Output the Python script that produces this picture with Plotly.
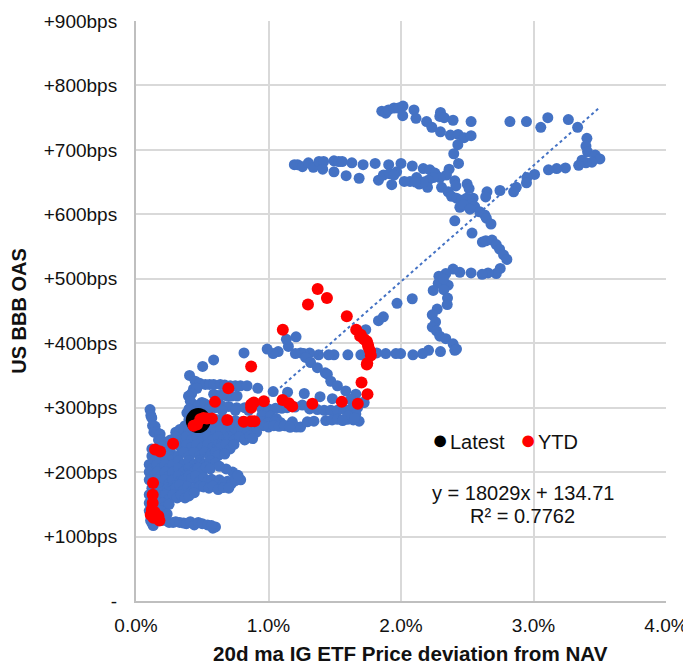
import plotly.graph_objects as go

# x = 20d ma ETF price deviation from NAV (%), y = US BBB OAS (bps)
blue_upper = [
 (1.855,760),(1.885,757),(1.905,762),(1.947,765),(1.98,765),(2.015,768),(2.098,762),(2.013,753),(2.113,749),
 (2.193,744),(2.233,735),(2.298,728),(2.298,758),(2.293,752),(2.326,750),(2.393,746),(2.529,744),(2.373,723),
 (2.431,724),(2.476,719),(2.529,722),(2.429,708),(2.398,694),(2.434,679),
 (2.822,744),(2.947,744),(3.055,735),(3.108,750),(3.263,747),(3.333,735),(3.403,718),(3.396,706),(3.408,697),
 (3.466,692),(3.501,686),(3.441,681),(3.396,680),(3.366,684),(3.341,676),(3.241,672),(3.175,671),(3.113,669),
 (3.008,662),(2.95,657),(2.947,649),(2.87,642),(2.85,635),(2.747,637),(2.649,635),(2.639,627),
 (1.195,677),(1.22,677),(1.256,674),(1.301,680),(1.338,673),(1.381,682),(1.416,682),(1.409,670),(1.494,683),
 (1.494,666),(1.53,682),(1.556,682),(1.629,680),(1.586,660),(1.684,656),(1.714,677),(1.805,679),(1.907,677),
 (2.0,679),(2.085,675),(2.168,671),(2.218,669),(2.256,664),(2.363,670),(2.343,661),(2.293,657),(2.243,657),
 (2.206,653),(2.118,657),(2.068,651),(2.025,651),(1.83,653),(1.867,661),(1.912,663),(1.967,666),(1.947,661),
 (1.93,646),(2.138,647),(2.2,642),(2.17,650),(2.11,650),(2.306,642),(2.406,652),(2.414,644),(2.499,647),(2.514,640),
 (2.356,635),(2.381,628),(2.419,625),(2.456,622),(2.494,625),(2.544,625),(2.444,611),(2.494,614),(2.531,617),
 (2.556,612),(2.47,615),(2.52,608),(2.594,604),(2.632,599),(2.644,594),(2.679,585),(2.406,590),(2.536,571),
 (2.614,557),(2.64,559),(2.687,560),(2.719,553),(2.744,546),(2.774,537),(2.799,530),
]
blue_middle = [
 (2.749,516),(2.719,508),(2.657,509),(2.612,507),(2.529,509),(2.444,510),(2.393,515),(2.338,508),(2.286,504),
 (2.281,493),(2.356,490),(2.32,500),(2.243,482),(2.323,483),(2.351,470),(2.349,460),(2.273,453),(2.236,444),
 (2.261,433),(2.236,425),(2.268,419),(2.293,411),(2.338,407),(2.393,399),(2.419,391),(2.406,389),(2.298,387),
 (2.208,389),(2.163,384),(2.09,382),(1.997,384),(1.962,384),(1.885,384),(1.817,385),(1.697,382),(1.599,382),
 (1.494,382),(1.454,382),(1.378,382),(1.311,385),(1.266,384),(1.242,385),(1.203,384),(1.073,387),(1.035,384),
 (0.99,391),(0.815,385),(1.15,395),(1.135,406),(1.208,410),(1.734,421),(1.83,435),(1.867,441),(1.97,462),(2.085,469),
 (1.28,378),(1.318,370),(1.369,362),(1.429,354),(1.444,352),(1.47,341),(1.52,334),(1.583,326),(1.659,321),(1.722,308),
 (0.586,374),(0.503,364),(0.919,330),(1.035,325),(1.144,324),(1.27,322),(1.389,317),(1.482,314),
 (0.404,350),(0.447,341),(0.48,338),(0.523,336),(0.555,336),(0.586,336),(0.636,336),(0.67,335),(0.712,334),(0.75,334),(0.788,334),(0.838,334),
 (0.434,329),(0.46,330),(0.42,322),(0.396,318),(0.687,318),(0.72,318),(0.763,318),(0.586,321),(0.62,319),(0.65,320),(0.497,308),(0.434,305),(0.384,292),
 (0.41,310),(0.47,303),(0.52,306),(0.56,302),(0.6,300),(0.64,304),(0.7,302),(0.76,300),(0.82,300),(0.4,298),(0.45,294),
 (0.55,297),(0.65,296),(0.75,296),(0.85,296),(0.95,298),(1.0,298),(1.053,299),(1.1,299),(1.14,300),(1.2,301),(1.255,304),(1.31,298),(1.369,297),
 (1.42,296),(1.47,296),(1.52,296),(1.571,297),(1.62,298),(1.672,300),(1.71,308),(1.62,313),(1.66,308),(1.659,290),
 (0.95,288),(1.015,287),(1.06,283),(1.09,277),(1.13,272),(1.167,270),(1.21,270),(1.242,270),(1.293,278),(1.343,279),(1.432,280),(1.48,281),(1.52,282),(1.56,281),(1.596,282),(1.64,281),(1.684,279),
 (1.6,287),(1.65,284),(1.56,280),(1.18,278),
]
blue_dense = [
 (0.106,297),(0.112,288),(0.119,284),(0.125,272),(0.144,271),(0.135,262),(0.155,262),(0.182,259),(0.17,250),(0.19,250),(0.22,246),(0.23,238),
 (0.2,240),(0.15,232),(0.12,236),(0.26,232),
 (0.40,282),(0.45,284),(0.5,280),(0.55,282),(0.6,282),(0.65,282),(0.7,280),(0.75,280),(0.8,278),(0.85,278),(0.9,277),(0.95,278),(1.0,277),(1.05,278),
 (0.37,272),(0.41,275),(0.44,272),(0.48,274),(0.52,270),(0.56,274),(0.6,272),(0.64,274),(0.68,270),(0.72,273),(0.76,272),(0.8,270),(0.84,270),(0.88,272),(0.92,271),(0.96,272),(1.0,270),(1.04,272),(1.08,271),(1.12,272),(1.16,270),
 (0.30,262),(0.33,266),(0.36,262),(0.4,265),(0.44,262),(0.48,266),(0.52,262),(0.56,265),(0.6,262),(0.64,266),(0.68,262),(0.72,265),(0.76,262),(0.8,265),(0.84,262),(0.88,265),(0.91,262),
 (0.26,250),(0.3,255),(0.34,250),(0.38,255),(0.42,250),(0.46,255),(0.5,250),(0.54,255),(0.58,250),(0.62,255),(0.66,250),(0.7,255),(0.74,250),(0.78,255),(0.82,250),(0.86,256),(0.88,252),
 (0.3,244),(0.34,238),(0.38,243),(0.42,238),(0.46,243),(0.5,238),(0.54,243),(0.58,238),(0.62,243),(0.64,238),(0.68,243),(0.71,236),(0.74,243),
 (0.12,225),(0.15,220),(0.18,225),(0.21,220),(0.25,225),(0.28,220),(0.32,225),(0.36,231),(0.4,225),(0.44,231),(0.48,225),(0.52,231),(0.56,225),(0.6,231),(0.62,226),(0.67,228),
 (0.1,212),(0.13,206),(0.16,212),(0.19,206),(0.22,212),(0.25,206),(0.28,212),(0.32,218),(0.36,212),(0.4,218),(0.44,212),(0.48,218),(0.52,212),(0.56,218),(0.6,214),
 (0.1,200),(0.13,194),(0.16,200),(0.19,194),(0.22,200),(0.25,194),(0.28,200),(0.32,206),(0.36,200),(0.4,206),(0.44,200),(0.47,206),(0.5,201),(0.53,208),(0.56,205),(0.73,200),(0.68,205),(0.63,209),(0.76,193),
 (0.1,188),(0.13,182),(0.16,188),(0.19,182),(0.22,188),(0.25,182),(0.28,188),(0.32,194),(0.36,188),(0.4,194),(0.42,190),(0.45,194),(0.48,186),(0.51,191),(0.54,185),(0.57,189),(0.6,182),(0.63,188),(0.66,182),(0.69,186),(0.72,182),(0.75,187),(0.79,188),(0.77,195),
 (0.12,175),(0.15,170),(0.18,175),(0.21,170),(0.24,175),(0.27,170),(0.3,175),(0.33,180),(0.36,172),(0.39,178),(0.42,170),(0.45,176),(0.48,178),(0.51,177),(0.55,175),(0.58,178),(0.62,173),(0.66,176),(0.7,175),
 (0.1,165),(0.13,158),(0.16,165),(0.19,158),(0.22,165),(0.25,158),(0.28,165),(0.31,160),(0.34,165),(0.37,160),(0.4,163),(0.44,168),
 (0.1,152),(0.12,146),(0.15,152),(0.17,146),(0.2,152),(0.22,146),(0.25,150),
 (0.1,140),(0.14,140),(0.16,134),(0.19,140),(0.235,135),(0.21,132),(0.11,125),(0.115,130),(0.13,117),(0.12,121),
 (0.18,127),(0.2,125),(0.23,125),(0.25,122),(0.28,122),(0.3,123),(0.33,122),(0.36,121),(0.38,120),(0.41,123),(0.44,118),(0.47,122),(0.5,120),(0.54,118),(0.58,113),(0.6,115),(0.57,117),
]
red_points = [
 (0.869,364),(0.697,330),(0.596,309),(0.869,305),(0.889,308),(0.869,300),(0.965,310),(1.106,312),(1.154,307),
 (1.179,302),(1.331,306),(1.553,309),(1.674,306),(1.702,339),(1.747,321),(1.745,369),
 (0.689,281),(0.813,278),(0.894,279),(0.869,279),(0.573,283),(0.535,283),(0.485,282),(0.46,274),(0.434,272),(0.51,284),
 (0.28,244),(0.144,235),(0.182,232),(0.129,183),(0.126,165),(0.126,152),(0.119,142),(0.111,134),(0.131,129),
 (0.177,125),(0.169,132),(0.14,138),
 (1.108,421),(1.298,460),(1.371,484),(1.441,470),(1.591,442),(1.662,421),(1.692,411),(1.697,413),(1.722,406),
 (1.742,403),(1.75,398),(1.754,394),(1.767,388),(1.772,381),(1.742,367),
]
latest_x = [0.47]
latest_y = [280]
trend_x = [0.1, 3.5]
trend_y = [153, 766]
x_ticks = [0, 1, 2, 3, 4]
x_labels = ["0.0%", "1.0%", "2.0%", "3.0%", "4.0%"]
y_ticks = [0, 100, 200, 300, 400, 500, 600, 700, 800, 900]
y_labels = ["-", "+100bps", "+200bps", "+300bps", "+400bps", "+500bps", "+600bps", "+700bps", "+800bps", "+900bps"]

FONT = "Liberation Sans"
BLUE = "#4472C4"
blue_all = blue_upper + blue_middle + blue_dense

fig = go.Figure()
fig.add_trace(go.Scatter(x=[p[0] for p in blue_all], y=[p[1] for p in blue_all], mode="markers",
                         marker=dict(color=BLUE, size=11), showlegend=False))
fig.add_trace(go.Scatter(x=trend_x, y=trend_y, mode="lines",
                         line=dict(color=BLUE, width=2, dash="dot"), showlegend=False))
fig.add_trace(go.Scatter(x=latest_x, y=latest_y, mode="markers", name="Latest", showlegend=False,
                         marker=dict(color="black", size=25)))
fig.add_trace(go.Scatter(x=[p[0] for p in red_points], y=[p[1] for p in red_points], mode="markers", name="YTD",
                         showlegend=False, marker=dict(color="#FF0000", size=12)))

fig.update_layout(
    width=683, height=654, autosize=False,
    margin=dict(l=128, r=25, t=13, b=60.5, autoexpand=False),
    paper_bgcolor="white", plot_bgcolor="white",
    font=dict(family=FONT, size=19, color="#111111"),
    showlegend=False,
    xaxis=dict(range=[0, 4], tickmode="array", tickvals=x_ticks, ticktext=x_labels, automargin=False,
               showgrid=True, gridcolor="#D9D9D9", gridwidth=2, zeroline=False,
               showline=True, linecolor="#BFBFBF", linewidth=2, ticks="", ticklabelstandoff=6),
    yaxis=dict(range=[0, 900], tickmode="array", tickvals=y_ticks, ticktext=y_labels, automargin=False,
               showgrid=True, gridcolor="#D9D9D9", gridwidth=2, zeroline=False,
               showline=True, linecolor="#BFBFBF", linewidth=2, ticks="", ticklabelstandoff=13,
               title=dict(text="<b>US BBB OAS</b>", font=dict(size=20), standoff=12)),
    annotations=[
        dict(xref="paper", yref="paper", x=0.517, y=-0.0904, xanchor="center", yanchor="middle", showarrow=False,
             text="<b>20d ma IG ETF Price deviation from NAV</b>", font=dict(size=20.6)),
        dict(xref="paper", yref="paper", x=0.73, y=0.1869, xanchor="center", yanchor="middle", showarrow=False,
             text="y = 18029x + 134.71", font=dict(size=20)),
        dict(xref="paper", yref="paper", x=0.73, y=0.1473, xanchor="center", yanchor="middle", showarrow=False,
             text="R² = 0.7762", font=dict(size=20)),
        dict(xref="paper", yref="paper", x=0.555, y=0.278, xanchor="left", yanchor="middle", showarrow=False,
             text="<span style='color:#000000;font-size:27px'>●</span>\u200aLatest", font=dict(size=20)),
        dict(xref="paper", yref="paper", x=0.7205, y=0.278, xanchor="left", yanchor="middle", showarrow=False,
             text="<span style='color:#FF0000;font-size:27px'>●</span>\u200aYTD", font=dict(size=20)),
    ],
)
fig.write_html("out.html")
